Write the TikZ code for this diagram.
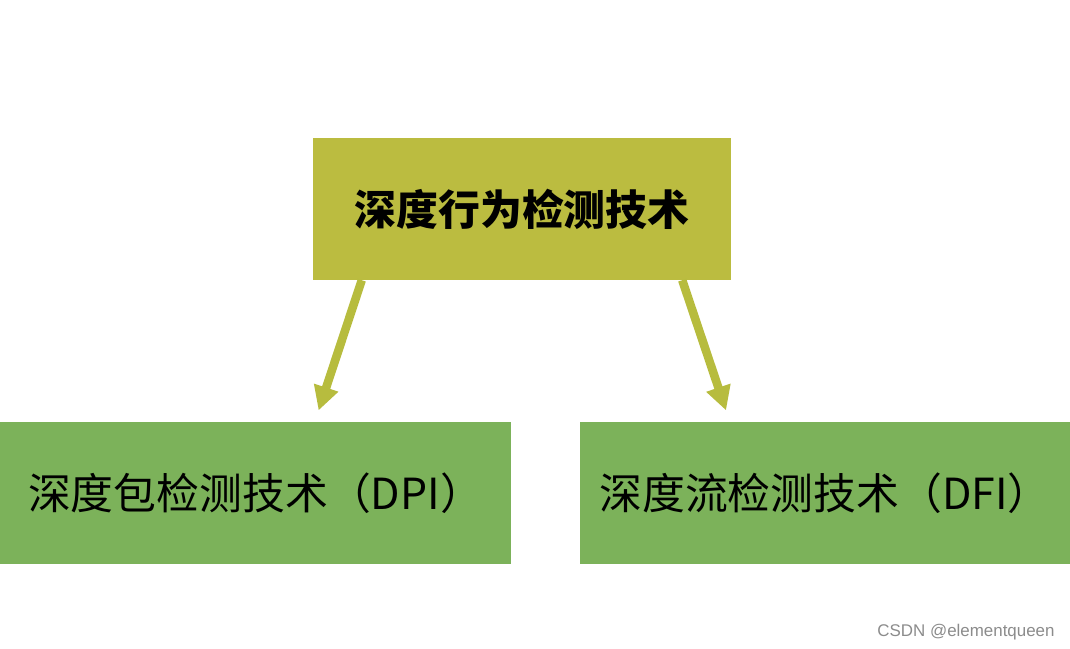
\documentclass[tikz,border=0pt]{standalone}
\usepackage{fontspec}
\usepackage{tikz}
\usetikzlibrary{calc,positioning,arrows.meta}
\newfontfamily\cjk{Noto Sans CJK SC}
\newfontfamily\wmfont{Liberation Sans}
\definecolor{olivebox}{RGB}{187,188,64}
\definecolor{greenbox}{RGB}{124,178,90}
\definecolor{olivearr}{RGB}{183,188,62}
\tikzset{
  box/.style={draw=none,fill=greenbox,align=center,inner sep=0pt,
              font=\cjk\fontsize{43}{50}\selectfont,minimum height=142bp},
  arr/.style={-{Triangle[length=24bp,width=24bp]},line width=8.5bp,olivearr,shorten >=12bp}
}
\begin{document}
\begin{tikzpicture}[x=1bp,y=-1bp]
  \useasboundingbox[fill=white] (0,0) rectangle (1070,649);
  % top : behaviour detection
  \node[box,fill=olivebox,minimum width=418bp,font=\cjk\bfseries\fontsize{42}{50}\selectfont] (dbd) at (522,209) {深度行为检测技术};
  % bottom : packet and flow
  \node[box,minimum width=511bp] (dpi) at (255.5,493) {深度包检测技术（DPI）};
  \node[box,minimum width=490bp] (dfi) at (825,493)   {深度流检测技术（DFI）};
  \draw[arr] ($(dbd.south west)!0.117!(dbd.south east)$) -- ($(dpi.north west)!0.616!(dpi.north east)$);
  \draw[arr] ($(dbd.south west)!0.883!(dbd.south east)$) -- ($(dfi.north west)!0.306!(dfi.north east)$);
  % watermark
  \node[font=\wmfont\fontsize{17}{20}\selectfont,text=black!45,inner sep=0pt] (wm) at (966,632) {CSDN @elementqueen};
\end{tikzpicture}
\end{document}
